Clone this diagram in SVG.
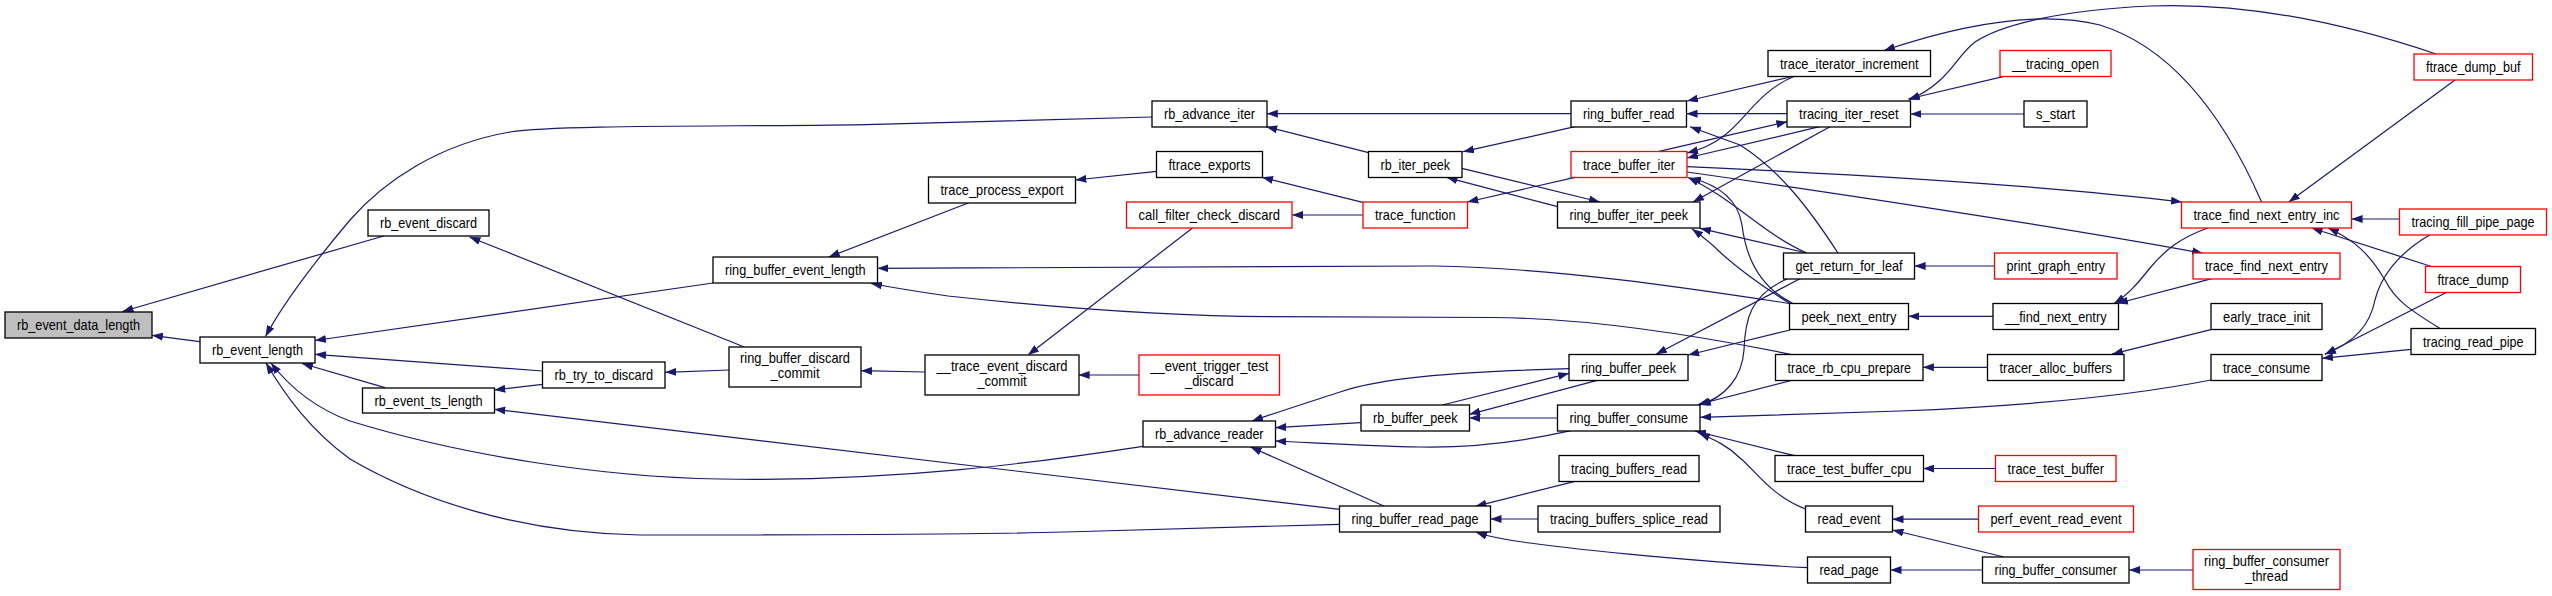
<svg xmlns="http://www.w3.org/2000/svg" width="2552" height="596" viewBox="0 0 2552 596">
<defs>
<marker id="ah" viewBox="0 0 11 8" refX="11" refY="4" markerWidth="11" markerHeight="8" markerUnits="userSpaceOnUse" orient="auto">
<path d="M0,0 L11,4 L0,8 z" fill="#191970"/>
</marker>
<style>
.n rect{fill:#fff;stroke:#000;stroke-width:1.3}
.r rect{fill:#fff;stroke:#ff0000;stroke-width:1.3}
.f rect{fill:#bfbfbf;stroke:#000;stroke-width:1.3}
text{font-family:"Liberation Sans",Arial,Helvetica,sans-serif;font-size:14.5px;fill:#000;text-anchor:middle}
#edges path{fill:none;stroke:#191970;stroke-width:1.2;marker-end:url(#ah)}
</style>
</defs>
<rect width="2552" height="596" fill="#fff"/>
<g id="edges">
<path d="M199.6,341.7 L151.9,335.3"/>
<path d="M383.7,236 L122.5,311.5"/>
<path d="M1152,117 L875,124.3 C760,127 560,124 510,132 C440,144 385,180 350,220 C318,258 285,300 265.5,336.5"/>
<path d="M713,283 L315,340.5"/>
<path d="M542.5,371 L315,354.3"/>
<path d="M385,387.7 L302,363.5"/>
<path d="M1143,446.3 C1040,462 900,482 720,479 C600,477 460,455 350,421 C312,407 288,385 271,363"/>
<path d="M1339.6,524.3 L1100,531 C1000,535 800,535 640,535 C520,533 420,500 350,459 C310,430 285,395 266,363"/>
<path d="M744.3,347 L469.5,237"/>
<path d="M542.5,384.3 L494.3,390"/>
<path d="M1339.6,509.3 L494.3,409.3"/>
<path d="M729.2,370 L665.1,372.3"/>
<path d="M924.7,372 L861,370.7"/>
<path d="M1139,375 L1078.6,375"/>
<path d="M1192.5,228 L1028,355"/>
<path d="M968.8,202.7 L828.8,257"/>
<path d="M1789.7,303.5 C1700,290 1560,268 1434,266 L877.4,268.3"/>
<path d="M1790.6,354.3 C1720,340 1600,318 1492,317.5 L1270,316.7 C1150,316 1040,306 948,296 C920,292 895,288 871,283.5"/>
<path d="M1571,113.7 L1266.8,113.7"/>
<path d="M1368.6,152.7 L1266.2,126.7"/>
<path d="M1575,126.7 L1463,151.7"/>
<path d="M1557.6,206.7 L1446.5,177.3"/>
<path d="M1461.9,168.3 L1599.9,202"/>
<path d="M1362.8,202.3 L1262,177.3"/>
<path d="M1362.8,215 L1292,215"/>
<path d="M1575,177.3 L1467.3,202"/>
<path d="M1156.6,171.3 L1075.4,180"/>
<path d="M1794.7,76 L1687,101"/>
<path d="M1787.3,113.7 L1686.5,113.7"/>
<path d="M1838,253 C1810,210 1780,170 1740,145 L1690,126.7"/>
<path d="M1795,76 C1760,90 1745,120 1725,135 C1712,145 1702,149 1687,153"/>
<path d="M1819.6,126.7 L1687,158"/>
<path d="M1658,151.7 L1787.3,121.7"/>
<path d="M1830,126.7 L1693,202"/>
<path d="M1687,166.7 C1850,174 2050,186 2182,202"/>
<path d="M1687,172 C1800,188 2050,225 2203,253.3"/>
<path d="M1806.7,253 C1765,235 1735,200 1688,177.5"/>
<path d="M1793,303.5 C1755,285 1745,250 1742,225 C1738,200 1720,185 1690,178"/>
<path d="M1806.7,253 L1700,228.3"/>
<path d="M1790,303.5 C1760,285 1740,270 1722,254 C1712,244 1702,236 1692,229"/>
<path d="M1800,278.7 L1656,354.3"/>
<path d="M1790,330 L1688.2,355"/>
<path d="M1787,279 C1750,295 1745,320 1744,350 C1742,378 1725,397 1700,405"/>
<path d="M1793.3,380 L1698,404.5"/>
<path d="M2211,380 C2150,392 2050,405 1900,411 L1700.2,417.3"/>
<path d="M1794.7,455.7 L1695,431"/>
<path d="M1805.5,509 C1770,495 1755,470 1740,458 C1728,446 1715,440 1699,433"/>
<path d="M1360.7,422.7 L1275.3,427.7"/>
<path d="M1571,430.7 C1520,442 1470,448 1420,447 C1370,446 1320,443 1275.3,441"/>
<path d="M1569.2,368.7 C1450,372 1380,378 1340,392 C1300,405 1275,413 1252,421"/>
<path d="M1384.4,506.3 L1250.5,447"/>
<path d="M1600,379.7 L1469.3,414.3"/>
<path d="M1442.4,405 L1569.2,373.3"/>
<path d="M1557.6,418 L1469.3,418"/>
<path d="M1575,481.3 L1475.5,506.3"/>
<path d="M1538,519 L1490.5,519"/>
<path d="M1807.6,567.7 C1700,562 1580,550 1530,543 C1505,540 1490,537 1476,532.3"/>
<path d="M1993.1,316.3 L1908.3,316.3"/>
<path d="M1987.3,367.3 L1922.9,367.3"/>
<path d="M2211.9,329.3 L2112,354.2"/>
<path d="M1995.6,468.5 L1923.3,468.5"/>
<path d="M1978.6,519.2 L1892.5,519.2"/>
<path d="M2004,557 L1892.5,530"/>
<path d="M1982.3,570 L1890.5,570"/>
<path d="M2193.1,570 L2129.1,570"/>
<path d="M2207.7,228 C2180,238 2165,250 2150,268 C2138,283 2128,295 2114,303.5"/>
<path d="M2211.9,278.7 L2117,303.5"/>
<path d="M1994.4,266 L1914.6,266"/>
<path d="M2004,76.3 L1908.3,99"/>
<path d="M2024.3,114 L1910.4,114"/>
<path d="M2436,54 C2350,25 2250,2 2150,6 C2060,10 2000,25 1975,42 C1955,57 1950,82 1909,100"/>
<path d="M2261.7,202.3 C2230,130 2180,50 2100,25 C2040,10 1960,25 1884,50.5"/>
<path d="M2455,80 L2288.8,202"/>
<path d="M2399.4,219 L2351.6,219"/>
<path d="M2432.2,266.7 L2311.6,228"/>
<path d="M2440.5,328.7 C2410,310 2395,300 2385,280 C2370,255 2355,240 2328,228"/>
<path d="M2430,234.7 C2395,255 2380,280 2375,300 C2370,325 2355,342 2325,354.3"/>
<path d="M2446.8,292.3 L2325,354.3"/>
<path d="M2411,349.3 L2322,358.3"/>
</g>
<g id="n_rb_event_data_length" class="f"><rect x="5" y="312" width="147" height="26"/><text x="78.5" y="330" textLength="123" lengthAdjust="spacingAndGlyphs">rb_event_data_length</text></g>
<g id="n_rb_event_length" class="n"><rect x="200" y="337" width="115" height="26"/><text x="257.5" y="355" textLength="91" lengthAdjust="spacingAndGlyphs">rb_event_length</text></g>
<g id="n_rb_event_discard" class="n"><rect x="368" y="210" width="121" height="26"/><text x="428.5" y="228" textLength="97" lengthAdjust="spacingAndGlyphs">rb_event_discard</text></g>
<g id="n_rb_event_ts_length" class="n"><rect x="362.5" y="388" width="132" height="25"/><text x="428.5" y="405.5" textLength="108" lengthAdjust="spacingAndGlyphs">rb_event_ts_length</text></g>
<g id="n_rb_try_to_discard" class="n"><rect x="542.5" y="362" width="122.5" height="26"/><text x="603.8" y="380" textLength="98.5" lengthAdjust="spacingAndGlyphs">rb_try_to_discard</text></g>
<g id="n_ring_buffer_event_length" class="n"><rect x="713" y="257" width="164.5" height="26"/><text x="795.3" y="275" textLength="140.5" lengthAdjust="spacingAndGlyphs">ring_buffer_event_length</text></g>
<g id="n_ring_buffer_discard_commit" class="n"><rect x="729" y="347" width="132" height="40"/><text x="795" y="363" textLength="110" lengthAdjust="spacingAndGlyphs">ring_buffer_discard</text><text x="795" y="378" textLength="49" lengthAdjust="spacingAndGlyphs">_commit</text></g>
<g id="n_trace_process_export" class="n"><rect x="928.5" y="177" width="147" height="26"/><text x="1002" y="195" textLength="123" lengthAdjust="spacingAndGlyphs">trace_process_export</text></g>
<g id="n___trace_event_discard_commit" class="n"><rect x="925" y="355" width="154" height="40"/><text x="1002" y="371" textLength="131" lengthAdjust="spacingAndGlyphs">__trace_event_discard</text><text x="1002" y="386" textLength="49.5" lengthAdjust="spacingAndGlyphs">_commit</text></g>
<g id="n_rb_advance_iter" class="n"><rect x="1152" y="101" width="115" height="26"/><text x="1209.5" y="119" textLength="91" lengthAdjust="spacingAndGlyphs">rb_advance_iter</text></g>
<g id="n_ftrace_exports" class="n"><rect x="1156.5" y="151.5" width="106" height="26"/><text x="1209.5" y="169.5" textLength="82" lengthAdjust="spacingAndGlyphs">ftrace_exports</text></g>
<g id="n_call_filter_check_discard" class="r"><rect x="1126.5" y="202" width="165.5" height="26"/><text x="1209.3" y="220" textLength="141.5" lengthAdjust="spacingAndGlyphs">call_filter_check_discard</text></g>
<g id="n___event_trigger_test_discard" class="r"><rect x="1139" y="355" width="140.5" height="40"/><text x="1209.3" y="371" textLength="118" lengthAdjust="spacingAndGlyphs">__event_trigger_test</text><text x="1209.3" y="386" textLength="48.5" lengthAdjust="spacingAndGlyphs">_discard</text></g>
<g id="n_rb_advance_reader" class="n"><rect x="1143" y="421" width="132.5" height="26"/><text x="1209.3" y="439" textLength="108.5" lengthAdjust="spacingAndGlyphs">rb_advance_reader</text></g>
<g id="n_rb_iter_peek" class="n"><rect x="1368.5" y="151.5" width="93.5" height="26"/><text x="1415.3" y="169.5" textLength="69.5" lengthAdjust="spacingAndGlyphs">rb_iter_peek</text></g>
<g id="n_trace_function" class="r"><rect x="1363" y="202" width="104.5" height="26"/><text x="1415.3" y="220" textLength="80.5" lengthAdjust="spacingAndGlyphs">trace_function</text></g>
<g id="n_rb_buffer_peek" class="n"><rect x="1361" y="405" width="108.5" height="26"/><text x="1415.3" y="423" textLength="84.5" lengthAdjust="spacingAndGlyphs">rb_buffer_peek</text></g>
<g id="n_ring_buffer_read_page" class="n"><rect x="1339.5" y="506" width="151" height="26"/><text x="1415" y="524" textLength="127" lengthAdjust="spacingAndGlyphs">ring_buffer_read_page</text></g>
<g id="n_ring_buffer_read" class="n"><rect x="1571" y="101" width="115.5" height="26"/><text x="1628.8" y="119" textLength="91.5" lengthAdjust="spacingAndGlyphs">ring_buffer_read</text></g>
<g id="n_trace_buffer_iter" class="r"><rect x="1571" y="151.5" width="116" height="26"/><text x="1629" y="169.5" textLength="92" lengthAdjust="spacingAndGlyphs">trace_buffer_iter</text></g>
<g id="n_ring_buffer_iter_peek" class="n"><rect x="1557.5" y="202" width="142.5" height="26"/><text x="1628.8" y="220" textLength="118.5" lengthAdjust="spacingAndGlyphs">ring_buffer_iter_peek</text></g>
<g id="n_ring_buffer_peek" class="n"><rect x="1569" y="354.5" width="119" height="26"/><text x="1628.5" y="372.5" textLength="95" lengthAdjust="spacingAndGlyphs">ring_buffer_peek</text></g>
<g id="n_ring_buffer_consume" class="n"><rect x="1557.5" y="405" width="142.5" height="26"/><text x="1628.8" y="423" textLength="118.5" lengthAdjust="spacingAndGlyphs">ring_buffer_consume</text></g>
<g id="n_tracing_buffers_read" class="n"><rect x="1559" y="455.5" width="140" height="26"/><text x="1629" y="473.5" textLength="116" lengthAdjust="spacingAndGlyphs">tracing_buffers_read</text></g>
<g id="n_tracing_buffers_splice_read" class="n"><rect x="1538" y="506" width="182" height="26"/><text x="1629" y="524" textLength="158" lengthAdjust="spacingAndGlyphs">tracing_buffers_splice_read</text></g>
<g id="n_trace_iterator_increment" class="n"><rect x="1768" y="50.5" width="162.5" height="26"/><text x="1849.3" y="68.5" textLength="138.5" lengthAdjust="spacingAndGlyphs">trace_iterator_increment</text></g>
<g id="n_tracing_iter_reset" class="n"><rect x="1787" y="101" width="123.5" height="26"/><text x="1848.8" y="119" textLength="99.5" lengthAdjust="spacingAndGlyphs">tracing_iter_reset</text></g>
<g id="n_get_return_for_leaf" class="n"><rect x="1783.5" y="253" width="131" height="26"/><text x="1849" y="271" textLength="107" lengthAdjust="spacingAndGlyphs">get_return_for_leaf</text></g>
<g id="n_peek_next_entry" class="n"><rect x="1789.5" y="303.5" width="119" height="26"/><text x="1849" y="321.5" textLength="95" lengthAdjust="spacingAndGlyphs">peek_next_entry</text></g>
<g id="n_trace_rb_cpu_prepare" class="n"><rect x="1775.5" y="354.5" width="147.5" height="26"/><text x="1849.3" y="372.5" textLength="123.5" lengthAdjust="spacingAndGlyphs">trace_rb_cpu_prepare</text></g>
<g id="n_trace_test_buffer_cpu" class="n"><rect x="1775" y="455.5" width="148.5" height="26"/><text x="1849.3" y="473.5" textLength="124.5" lengthAdjust="spacingAndGlyphs">trace_test_buffer_cpu</text></g>
<g id="n_read_event" class="n"><rect x="1805.5" y="506" width="87" height="26"/><text x="1849" y="524" textLength="63" lengthAdjust="spacingAndGlyphs">read_event</text></g>
<g id="n_read_page" class="n"><rect x="1807.5" y="557" width="83" height="26"/><text x="1849" y="575" textLength="59" lengthAdjust="spacingAndGlyphs">read_page</text></g>
<g id="n___tracing_open" class="r"><rect x="2000" y="50.5" width="111" height="26"/><text x="2055.5" y="68.5" textLength="87" lengthAdjust="spacingAndGlyphs">__tracing_open</text></g>
<g id="n_s_start" class="n"><rect x="2024" y="101" width="63" height="26"/><text x="2055.5" y="119" textLength="39" lengthAdjust="spacingAndGlyphs">s_start</text></g>
<g id="n_print_graph_entry" class="r"><rect x="1994.5" y="253" width="122.5" height="26"/><text x="2055.8" y="271" textLength="98.5" lengthAdjust="spacingAndGlyphs">print_graph_entry</text></g>
<g id="n___find_next_entry" class="n"><rect x="1993" y="303.5" width="125.5" height="26"/><text x="2055.8" y="321.5" textLength="101.5" lengthAdjust="spacingAndGlyphs">__find_next_entry</text></g>
<g id="n_tracer_alloc_buffers" class="n"><rect x="1987.5" y="354.5" width="136.5" height="26"/><text x="2055.8" y="372.5" textLength="112.5" lengthAdjust="spacingAndGlyphs">tracer_alloc_buffers</text></g>
<g id="n_trace_test_buffer" class="r"><rect x="1995.5" y="455.5" width="120.5" height="26"/><text x="2055.8" y="473.5" textLength="96.5" lengthAdjust="spacingAndGlyphs">trace_test_buffer</text></g>
<g id="n_perf_event_read_event" class="r"><rect x="1978.5" y="506" width="155" height="26"/><text x="2056" y="524" textLength="131" lengthAdjust="spacingAndGlyphs">perf_event_read_event</text></g>
<g id="n_ring_buffer_consumer" class="n"><rect x="1982.5" y="557" width="146.5" height="26"/><text x="2055.8" y="575" textLength="122.5" lengthAdjust="spacingAndGlyphs">ring_buffer_consumer</text></g>
<g id="n_trace_find_next_entry_inc" class="r"><rect x="2181.5" y="202" width="170" height="26"/><text x="2266.5" y="220" textLength="146" lengthAdjust="spacingAndGlyphs">trace_find_next_entry_inc</text></g>
<g id="n_trace_find_next_entry" class="r"><rect x="2193" y="253" width="147" height="26"/><text x="2266.5" y="271" textLength="123" lengthAdjust="spacingAndGlyphs">trace_find_next_entry</text></g>
<g id="n_early_trace_init" class="n"><rect x="2211" y="303.5" width="111" height="26"/><text x="2266.5" y="321.5" textLength="87" lengthAdjust="spacingAndGlyphs">early_trace_init</text></g>
<g id="n_trace_consume" class="n"><rect x="2211" y="354.5" width="111" height="26"/><text x="2266.5" y="372.5" textLength="87" lengthAdjust="spacingAndGlyphs">trace_consume</text></g>
<g id="n_ring_buffer_consumer_thread" class="r"><rect x="2193" y="549.5" width="147" height="40"/><text x="2266.5" y="565.5" textLength="125" lengthAdjust="spacingAndGlyphs">ring_buffer_consumer</text><text x="2266.5" y="580.5" textLength="43" lengthAdjust="spacingAndGlyphs">_thread</text></g>
<g id="n_ftrace_dump_buf" class="r"><rect x="2414" y="54" width="118.5" height="26"/><text x="2473.3" y="72" textLength="94.5" lengthAdjust="spacingAndGlyphs">ftrace_dump_buf</text></g>
<g id="n_tracing_fill_pipe_page" class="r"><rect x="2399.5" y="209" width="147" height="26"/><text x="2473" y="227" textLength="123" lengthAdjust="spacingAndGlyphs">tracing_fill_pipe_page</text></g>
<g id="n_ftrace_dump" class="r"><rect x="2425.5" y="266.5" width="95" height="26"/><text x="2473" y="284.5" textLength="71" lengthAdjust="spacingAndGlyphs">ftrace_dump</text></g>
<g id="n_tracing_read_pipe" class="n"><rect x="2411" y="328.5" width="124.5" height="26"/><text x="2473.3" y="346.5" textLength="100.5" lengthAdjust="spacingAndGlyphs">tracing_read_pipe</text></g>
</svg>
